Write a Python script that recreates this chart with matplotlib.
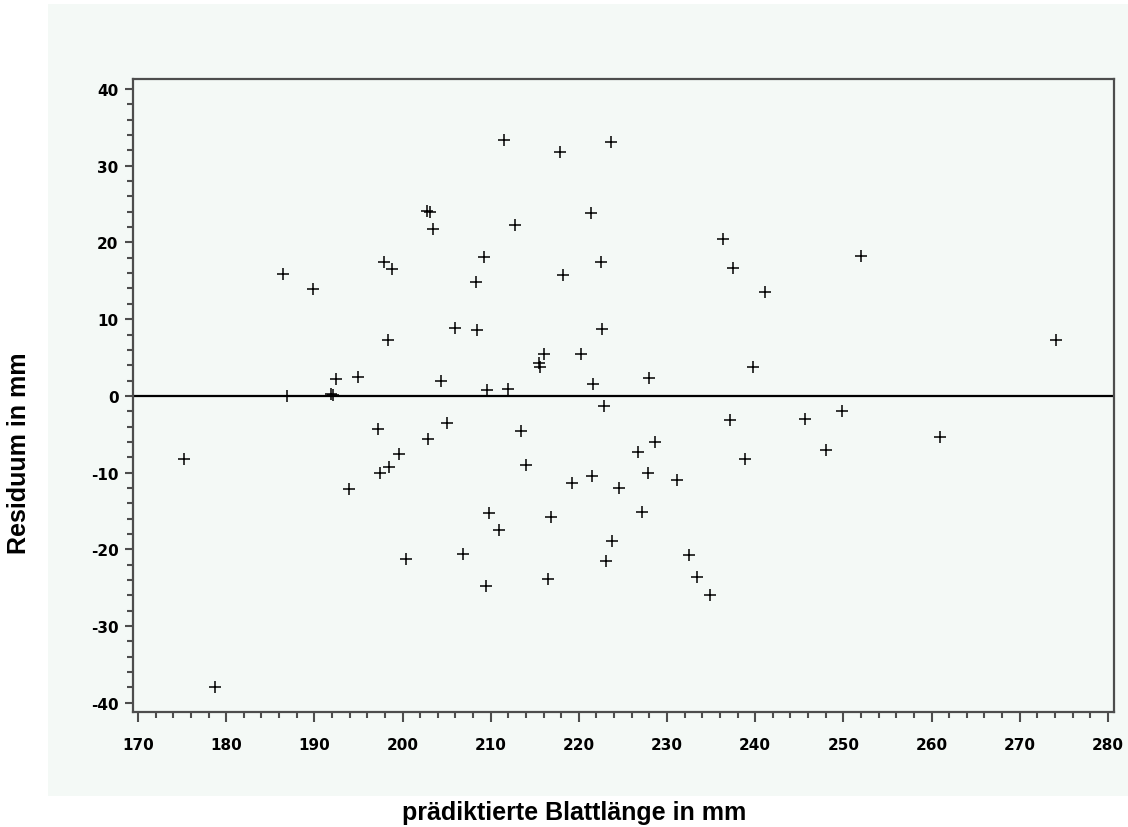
import matplotlib
matplotlib.use("Agg")
import matplotlib.pyplot as plt
from matplotlib.patches import Rectangle
from matplotlib.ticker import MultipleLocator

# predicted leaf length (mm) and residuals (mm)
predicted = [
    175.2, 178.7, 186.5, 186.9, 189.9, 191.9, 192.1, 192.4, 194.9, 193.9,
    197.2, 197.4, 197.9, 198.3, 198.5, 198.8, 199.6, 200.4, 202.8, 203.1,
    202.9, 203.5, 204.4, 205.1, 205.9, 206.9, 208.3, 208.5, 209.2, 209.5,
    209.6, 209.8, 211.0, 211.5, 212.0, 212.8, 213.4, 214.0, 215.5, 215.6,
    216.1, 216.5, 216.8, 217.9, 218.2, 219.2, 220.2, 221.4, 221.5, 221.6,
    222.5, 222.6, 222.9, 223.1, 223.7, 223.8, 224.5, 226.7, 227.2, 227.8,
    228.0, 228.6, 231.1, 232.5, 233.4, 234.9, 236.3, 237.1, 237.5, 238.9,
    239.7, 241.1, 245.6, 248.0, 249.9, 252.0, 261.0, 274.1,
]
residual = [
    -8.2, -38.0, 15.9, 0.0, 13.9, 0.2, 0.1, 2.2, 2.4, -12.2,
    -4.3, -10.0, 17.5, 7.3, -9.3, 16.5, -7.6, -21.3, 24.1, 24.0,
    -5.6, 21.7, 2.0, -3.5, 8.9, -20.6, 14.8, 8.6, 18.1, -24.8,
    0.8, -15.2, -17.5, 33.4, 0.9, 22.3, -4.6, -9.0, 4.3, 3.8,
    5.4, -23.9, -15.8, 31.8, 15.8, -11.3, 5.4, 23.8, -10.4, 1.5,
    17.5, 8.7, -1.3, -21.5, 33.1, -18.9, -12.0, -7.3, -15.1, -10.1,
    2.3, -6.0, -11.0, -20.7, -23.6, -26.0, 20.5, -3.2, 16.7, -8.2,
    3.8, 13.6, -3.0, -7.0, -2.0, 18.2, -5.4, 7.3,
]

x_ticks = list(range(170, 281, 10))
y_ticks = list(range(-40, 41, 10))

W, H = 1128, 828
panel_color = "#f4f9f6"
frame_color = "#4d4d4d"

fig = plt.figure(figsize=(W / 100, H / 100), dpi=100)
fig.patch.set_facecolor("white")

# light backdrop behind the plotting area
fig.patches.append(Rectangle((48 / W, 1 - 797 / H), 1 - 48 / W, (797 - 5) / H,
                             transform=fig.transFigure, facecolor=panel_color,
                             edgecolor="none", zorder=-10))

ax = fig.add_axes([133 / W, 1 - 713 / H, (1114 - 133) / W, (713 - 80) / H])
ax.set_zorder(5)
ax.set_facecolor(panel_color)

ax.axhline(0, color="black", lw=1.6, zorder=2)
ax.plot(predicted, residual, linestyle="none", marker="+", color="black",
        markersize=8.2, markeredgewidth=1.1, zorder=3)

ax.set_xlim(169.43, 280.7)
ax.set_ylim(-41.2, 41.3)
ax.set_xticks(x_ticks)
ax.set_yticks(y_ticks)
ax.xaxis.set_minor_locator(MultipleLocator(2))
ax.yaxis.set_minor_locator(MultipleLocator(2))

for s in ax.spines.values():
    s.set_color(frame_color)
    s.set_linewidth(1.6)

tick_font = {"family": "DejaVu Sans", "weight": "bold", "size": 11}
ax.set_xticklabels([str(v) for v in x_ticks], fontdict=tick_font)
ax.set_yticklabels([str(v) for v in y_ticks], fontdict=tick_font)
ax.tick_params(axis="x", which="major", length=7.5, width=1.5, color=frame_color,
               pad=10.5, direction="out")
ax.tick_params(axis="x", which="minor", length=4, width=1.5, color=frame_color,
               direction="out")
ax.tick_params(axis="y", which="major", length=5.5, width=1.5, color=frame_color,
               pad=5, direction="out")
ax.tick_params(axis="y", which="minor", length=4, width=1.5, color=frame_color,
               direction="out")

label_font = {"family": "Liberation Sans", "weight": "bold", "size": 18}
fig.text(574 / W, 1 - 813 / H, "prädiktierte Blattlänge in mm", ha="center",
         va="center", fontdict=label_font)
fig.text(19 / W, 1 - 453 / H, "Residuum in mm", ha="center", va="center",
         rotation=90, fontdict=label_font)

fig.savefig("out.png", dpi=100, facecolor=fig.get_facecolor())
